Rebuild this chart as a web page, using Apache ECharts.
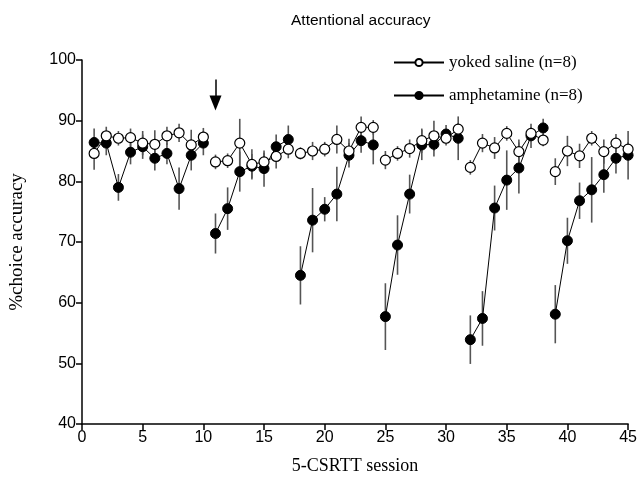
<!DOCTYPE html>
<html>
<head>
<meta charset="utf-8">
<script src="https://cdn.jsdelivr.net/npm/echarts@6/dist/echarts.min.js"></script>
<style>html,body{margin:0;padding:0;background:#fff}#c{width:640px;height:487px}</style>
</head>
<body>
<div id="c"></div>
<script>
const sessions = [1,2,3,4,5,6,7,8,9,10,11,12,13,14,15,16,17,18,19,20,21,22,23,24,25,26,27,28,29,30,31,32,33,34,35,36,37,38,39,40,41,42,43,44,45];
const blockStarts = [1, 11, 18, 25, 32, 39];
const salineMean = [84.6,87.5,87.1,87.2,86.3,86.1,87.5,88.0,86.0,87.3,
  83.2,83.4,86.3,82.8,83.2,84.1,85.3,
  84.6,85.0,85.3,86.9,85.0,88.9,88.9,
  83.5,84.6,85.4,86.7,87.5,87.1,88.6,
  82.3,86.3,85.5,87.9,84.9,87.9,86.8,
  81.6,85.0,84.2,87.1,84.9,86.3,85.3];
const salineSem = [2.7,1.5,1.2,1.5,2.0,2.3,1.5,1.5,2.5,1.5,
  1.2,1.2,4.0,2.5,1.5,2.0,1.5,
  1.0,1.5,1.2,2.3,2.0,1.8,1.2,
  1.5,1.2,1.5,2.0,2.5,1.2,1.0,
  1.2,1.5,1.8,1.2,2.0,1.0,1.0,
  2.2,2.5,2.0,1.2,2.0,1.5,1.2];
const amphMean = [86.4,86.3,79.0,84.8,85.7,83.8,84.6,78.8,84.3,86.3,
  71.4,75.5,81.6,82.5,82.1,85.7,86.9,
  64.5,73.6,75.4,77.9,84.3,86.7,86.0,
  57.7,69.5,77.9,86.0,86.1,87.8,87.1,
  53.9,57.4,75.6,80.2,82.2,87.5,88.8,
  58.1,70.2,76.8,78.6,81.1,83.8,84.3];
const amphSem = [2.3,2.0,2.2,2.0,2.0,2.0,1.8,3.5,2.5,2.0,
  3.3,3.5,3.3,2.0,3.0,2.0,2.3,
  4.8,5.3,2.0,4.5,2.0,2.0,3.2,
  5.5,4.9,3.2,2.5,2.0,1.5,3.6,
  4.0,4.5,3.7,4.9,4.2,2.0,1.5,
  4.8,3.8,3.0,5.4,3.0,2.5,4.0];
const xTicks = [0,5,10,15,20,25,30,35,40,45];
const yTicks = [40,50,60,70,80,90,100];
const salineName = 'yoked saline (n=8)';
const amphName = 'amphetamine (n=8)';

const chart = echarts.init(document.getElementById('c'));

function blocksOf(means) {
  const out = [];
  for (let b = 0; b < blockStarts.length; b++) {
    const s = blockStarts[b];
    const e = b + 1 < blockStarts.length ? blockStarts[b + 1] : sessions[sessions.length - 1] + 1;
    const pts = [];
    sessions.forEach((x, i) => { if (x >= s && x < e) pts.push([x, means[i]]); });
    out.push(pts);
  }
  return out;
}

function errSeries(means, sems, z) {
  return {
    type: 'custom', z: z, silent: true,
    data: sessions.map((x, i) => [x, means[i] - sems[i], means[i] + sems[i]]),
    renderItem: function (params, api) {
      const lo = api.coord([api.value(0), api.value(1)]);
      const hi = api.coord([api.value(0), api.value(2)]);
      return { type: 'line', shape: { x1: lo[0], y1: lo[1], x2: hi[0], y2: hi[1] },
        style: { stroke: '#555', lineWidth: 1.6 } };
    }
  };
}

const series = [];
series.push(errSeries(amphMean, amphSem, 1));
series.push(errSeries(salineMean, salineSem, 1));
blocksOf(amphMean).forEach((pts, k) => {
  const s = {
    name: amphName, type: 'line', data: pts, z: 3,
    symbol: 'circle', symbolSize: 10,
    itemStyle: { color: '#000', borderColor: '#000', borderWidth: 1 },
    lineStyle: { color: '#000', width: 1 },
    emphasis: { disabled: true }, animation: false
  };
  if (k === 1) {
    s.markLine = {
      silent: true, animation: false,
      symbol: ['none', 'triangle'], symbolSize: [12, 15],
      lineStyle: { color: '#000', width: 1.5, type: 'solid' },
      label: { show: false },
      data: [[{ coord: [11, 96.8] }, { coord: [11, 92.9] }]]
    };
  }
  series.push(s);
});
blocksOf(salineMean).forEach(pts => {
  series.push({
    name: salineName, type: 'line', data: pts, z: 4,
    symbol: 'circle', symbolSize: 10,
    itemStyle: { color: '#fff', borderColor: '#000', borderWidth: 1.2 },
    lineStyle: { color: '#000', width: 1 },
    emphasis: { disabled: true }, animation: false
  });
});

chart.setOption({
  animation: false,
  backgroundColor: '#fff',
  title: {
    text: 'Attentional accuracy', left: 286, top: 8,
    textStyle: { fontFamily: 'Liberation Sans', fontSize: 15.5, fontWeight: 'normal', color: '#000' }
  },
  legend: {
    data: [salineName, amphName], orient: 'vertical', left: 388, top: 49,
    itemWidth: 50, itemHeight: 9, itemGap: 16,
    textStyle: { fontFamily: 'Liberation Serif', fontSize: 17, color: '#000' }
  },
  grid: { left: 82, right: 8, top: 60, bottom: 63 },
  xAxis: {
    type: 'value', min: 0, max: 45, interval: 5,
    name: '5-CSRTT session', nameLocation: 'middle', nameGap: 33,
    nameTextStyle: { fontFamily: 'Liberation Serif', fontSize: 18, color: '#000' },
    axisLine: { lineStyle: { color: '#000', width: 1.5 } },
    axisTick: { show: true, length: 6, lineStyle: { color: '#000', width: 1.5 } },
    axisLabel: { fontFamily: 'Liberation Sans', fontSize: 16, color: '#000', margin: 6,
      formatter: v => xTicks.indexOf(v) >= 0 ? String(v) : '' },
    splitLine: { show: false }
  },
  yAxis: {
    type: 'value', min: 40, max: 100, interval: 10,
    name: '%choice accuracy', nameLocation: 'middle', nameGap: 55,
    nameTextStyle: { fontFamily: 'Liberation Serif', fontSize: 19, color: '#000' },
    axisLine: { show: true, lineStyle: { color: '#000', width: 1.5 } },
    axisTick: { show: true, length: 6, lineStyle: { color: '#000', width: 1.5 } },
    axisLabel: { fontFamily: 'Liberation Sans', fontSize: 16, color: '#000', margin: 6,
      formatter: v => yTicks.indexOf(v) >= 0 ? String(v) : '' },
    splitLine: { show: false }
  },
  series: series
});
</script>
</body>
</html>
